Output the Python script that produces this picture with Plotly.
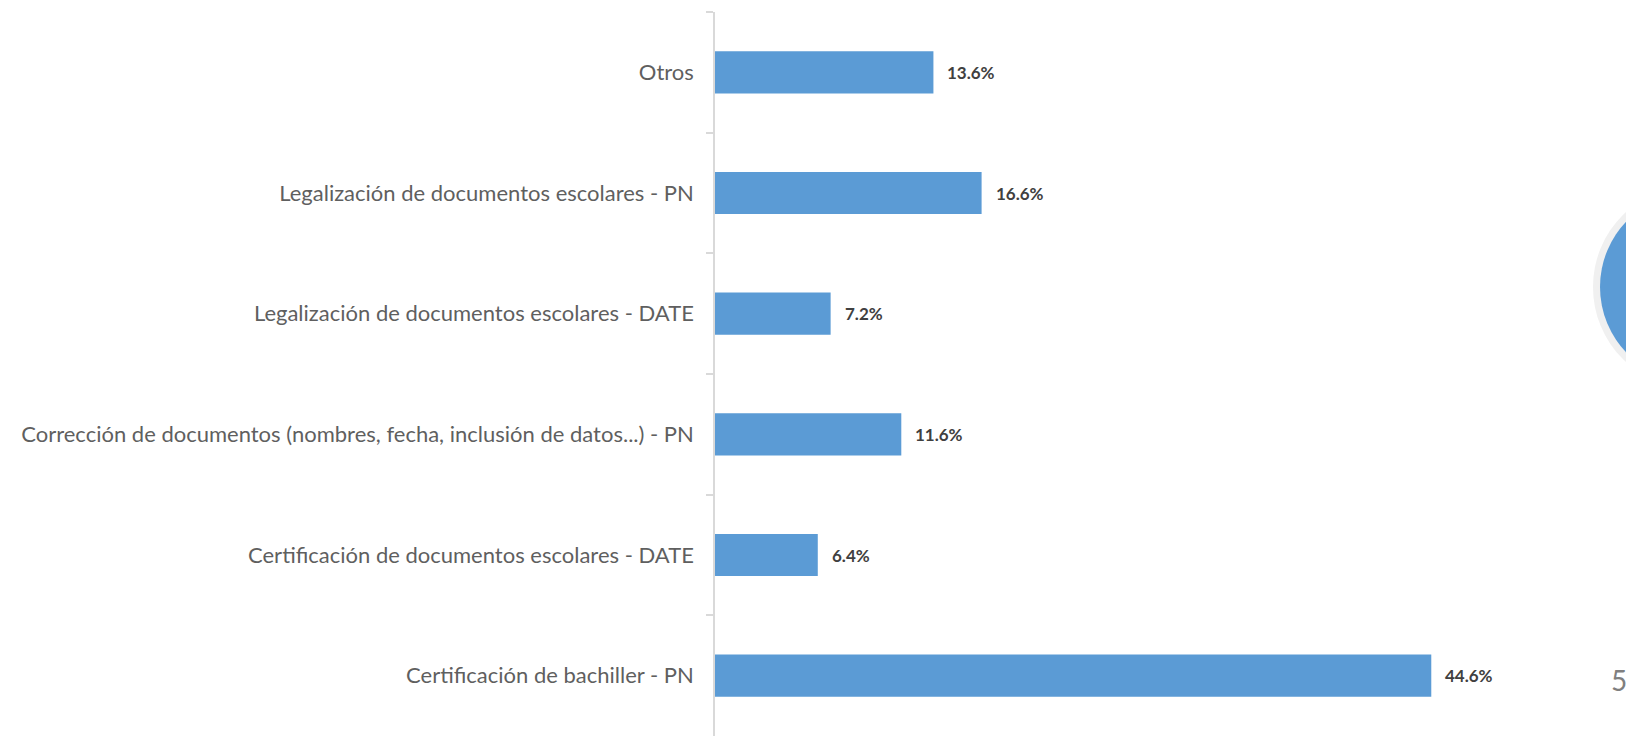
import plotly.graph_objects as go

categories = [
    "Otros",
    "Legalización de documentos escolares - PN",
    "Legalización de documentos escolares - DATE",
    "Corrección de documentos (nombres, fecha, inclusión de datos...) - PN",
    "Certificación de documentos escolares - DATE",
    "Certificación de bachiller - PN",
]
values = [13.6, 16.6, 7.2, 11.6, 6.4, 44.6]
value_labels = ["13.6%", "16.6%", "7.2%", "11.6%", "6.4%", "44.6%"]
page_number = "5"

W, H = 1626, 736
ML, MR, MT, MB = 715, 108, 12, 0
PW = W - ML - MR
PH = H - MT - MB

fig = go.Figure()
fig.add_trace(go.Bar(
    x=values, y=categories, orientation="h",
    marker=dict(color="#5b9bd5", line=dict(width=0)),
    hoverinfo="skip",
))

annotations = []
for c, v, t in zip(categories, values, value_labels):
    annotations.append(dict(
        x=v, y=c, xref="x", yref="y", text=t, showarrow=False,
        xanchor="left", yanchor="middle", xshift=12,
        font=dict(family="Lato", size=17, color="#404040", weight="bold"),
    ))

def px(xp):
    return (xp - ML) / PW

def py(yp):
    return 1 - (yp - MT) / PH

# page number
annotations.append(dict(
    x=px(1609), y=py(680), xref="paper", yref="paper", text=page_number,
    showarrow=False, xanchor="left", yanchor="middle",
    font=dict(family="Lato", size=28, color="#7f7f7f"),
))

shapes = []
cx, cy = 1695, 287
# shadow
r = 95
shapes.append(dict(type="circle", xref="paper", yref="paper",
                   x0=px(cx - r - 3), x1=px(cx + r - 3), y0=py(cy + r + 5), y1=py(cy - r + 5),
                   fillcolor="#7f98b3", line=dict(width=0), layer="above"))
r = 102
shapes.append(dict(type="circle", xref="paper", yref="paper",
                   x0=px(cx - r), x1=px(cx + r), y0=py(cy + r), y1=py(cy - r),
                   fillcolor="#f0f0f0", line=dict(width=0), layer="above"))
r = 95
shapes.append(dict(type="circle", xref="paper", yref="paper",
                   x0=px(cx - r), x1=px(cx + r), y0=py(cy + r), y1=py(cy - r),
                   fillcolor="#5b9bd5", line=dict(width=0), layer="above"))

fig.update_layout(
    width=W, height=H,
    margin=dict(l=ML, r=MR, t=MT, b=MB, pad=0),
    paper_bgcolor="white", plot_bgcolor="white",
    showlegend=False,
    bargap=0.65,
    xaxis=dict(range=[0, 50], visible=False, fixedrange=True),
    yaxis=dict(
        autorange="reversed",
        showline=True, linecolor="#d9d9d9", linewidth=1.5,
        ticks="outside", ticklen=7, tickcolor="#d9d9d9", tickwidth=1.5,
        tickson="boundaries",
        ticklabelstandoff=15,
        tickfont=dict(family="Lato", size=22, color="#5f5f5f"),
        showgrid=False, zeroline=False,
    ),
    annotations=annotations,
    shapes=shapes,
)

fig.write_html("out.html")
